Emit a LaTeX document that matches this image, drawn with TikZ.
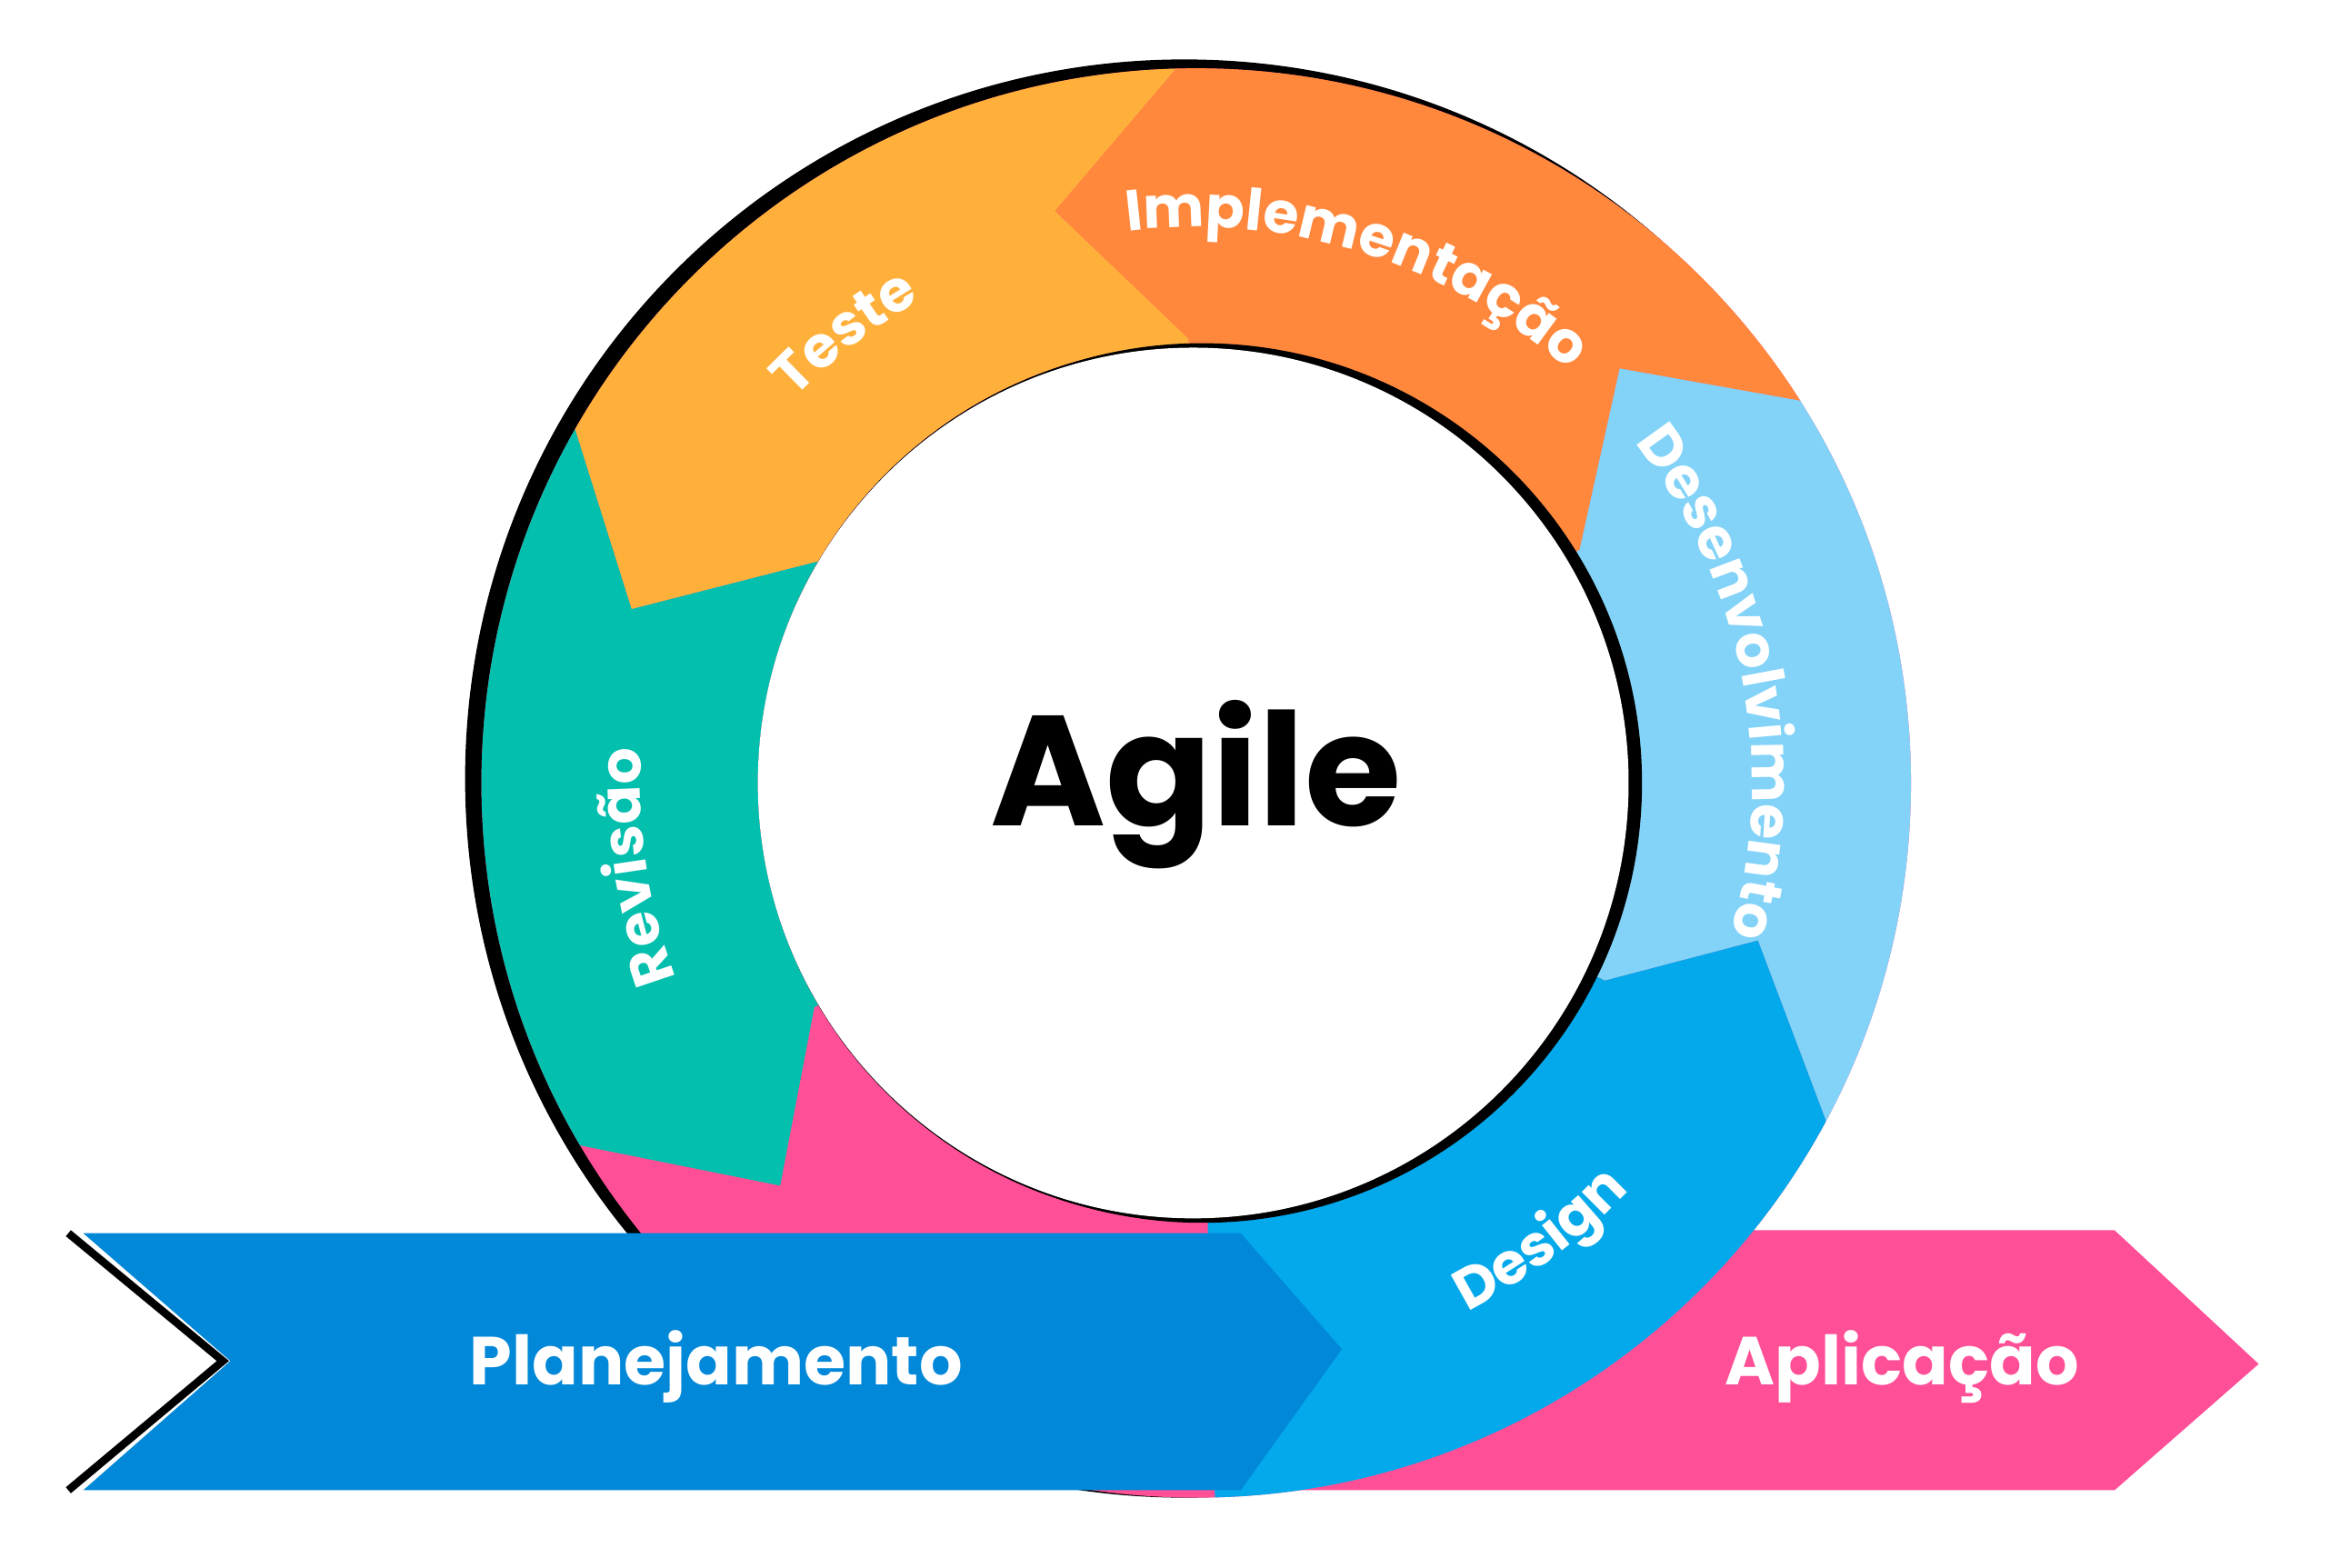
\documentclass[tikz,border=0pt]{standalone}
\usepackage{fontspec}
\setmainfont{Poppins}
\usetikzlibrary{decorations.text}
\definecolor{cTeste}{HTML}{FFB03B}
\definecolor{cImpl}{HTML}{FF883C}
\definecolor{cDesenv}{HTML}{83D3F8}
\definecolor{cDesign}{HTML}{03A9EB}
\definecolor{cRevisao}{HTML}{02BFAE}
\definecolor{cPink}{HTML}{FF4F97}
\definecolor{cPlan}{HTML}{0288D8}
\begin{document}
\begin{tikzpicture}[x=0.01cm, y=-0.01cm,
    every node/.style={font=\bfseries, text=white},
    ringtext/.style={decorate, decoration={text along path, text align=center,
        text={|\fontsize{11}{13}\bfseries\color{white}|#1}}}]
                    \useasboundingbox (0,0) rectangle (1568,1055);
                    \coordinate (c) at (805,527);

                    % Aplicacao ribbon (behind the ring)
                    \fill[cPink] (800,828) -- (1423,828) -- (1520,918) -- (1423,1003) -- (800,1003) -- cycle;

                    % black rims
                    \fill[black] (797,524) circle (484);

                    % Ring segments
                    \begin{scope}[even odd rule]
                    \clip (c) circle (481) (c) circle (295);
                    \fill[cPink] (c) circle (500);
                    \fill[cTeste] (c) -- (550,378) -- (425,410) -- (337,130) -- (-239,-1179) -- (910,-93) -- (710,142) -- (800,228) -- cycle;
                    \fill[cImpl] (c) -- (800,228) -- (710,142) -- (910,-93) -- (1743,-1239) -- (1398,303) -- (1090,248) -- (1063,370) -- cycle;
                    \fill[cDesenv] (c) -- (1063,370) -- (1090,248) -- (1398,303) -- (2804,457) -- (1300,943) -- (1183,633) -- (1080,660) -- cycle;
                    \fill[cDesign] (c) -- (1080,660) -- (1183,633) -- (1300,943) -- (1865,2223) -- (820,1100) -- cycle;
                    \fill[cRevisao] (c) -- (548,678) -- (525,798) -- (212,735) -- (-1195,569) -- (337,130) -- (425,410) -- (550,378) -- cycle;
                    \end{scope}

                    % inner hole
                    \fill[black] (809,527) circle (296);
                    \fill[white] (803,527) circle (293);

                    % Planejamento ribbon
                    \draw[black, line width=1.5pt] (46,830) -- (150,916) -- (46,1003);
                    \fill[cPlan] (56,830) -- (835,830) -- (903,908) -- (835,1003) -- (56,1003) -- (155,916) -- cycle;

                    % Labels
                    \node[text=black, font=\fontsize{30}{34}\bfseries] (agile) at (805,528) {Agile};
                    \node[font=\fontsize{13}{15}\bfseries] (plan) at (482,920) {Planejamento};
                    \node[font=\fontsize{13}{15}\bfseries] (apl) at (1280,920) {Aplicação};

                    % Ring labels
                    \path[ringtext=Teste] (c) ++(202:374) arc (202:262:374);
                    \path[ringtext=Implementação] (c) ++(247:374) arc (247:328:374);
                    \path[ringtext=Desenvolvimento] (c) ++(303:374) arc (303:395:374);
                    \path[ringtext=Revisão] (c) ++(141:374) arc (141:202:374);
                    \path[ringtext=Design] (c) ++(80:400) arc (80:26:400);
                \end{tikzpicture}
\end{document}
